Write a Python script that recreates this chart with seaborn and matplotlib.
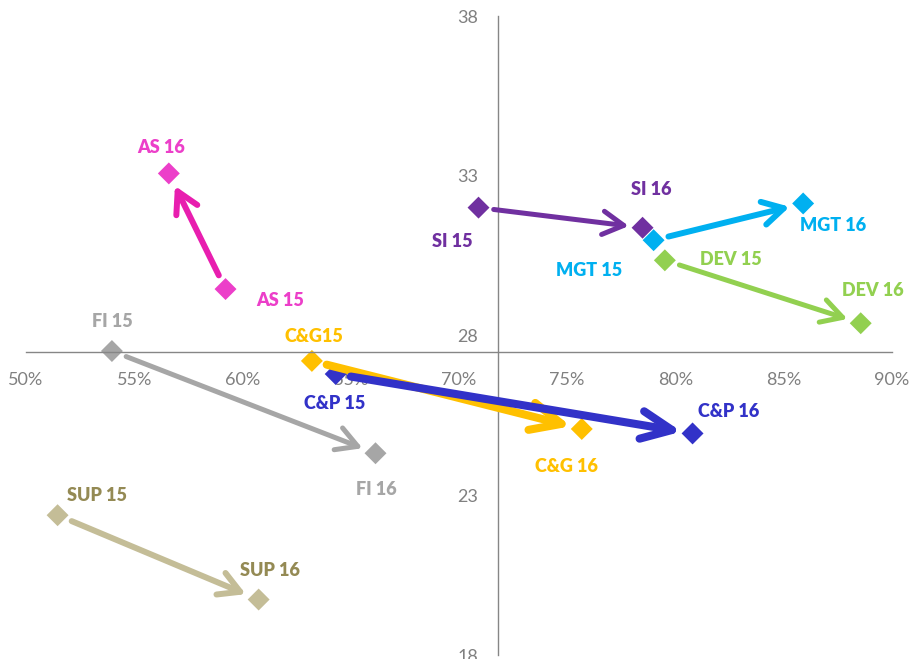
import numpy as np
import pandas as pd
import matplotlib
matplotlib.use('Agg')
import matplotlib.pyplot as plt
import seaborn as sns

# ------------------------------------------------------------------
# data: position of each team in 2015 and 2016 (x in %, y score)
# ------------------------------------------------------------------
teams = ['AS', 'SI', 'MGT', 'DEV', 'FI', 'C&G', 'C&P', 'SUP']
x15 = [59.22, 70.91, 79.00, 79.52, 53.97, 63.21, 64.31, 51.46]
y15 = [29.46, 32.01, 30.99, 30.36, 27.52, 27.21, 26.80, 22.38]
x16 = [56.60, 78.49, 85.91, 88.57, 66.15, 75.68, 80.80, 60.75]
y16 = [33.08, 31.38, 32.14, 28.39, 24.32, 25.08, 24.94, 19.74]
labels15 = ['AS 15', 'SI 15', 'MGT 15', 'DEV 15', 'FI 15', 'C&G15', 'C&P 15', 'SUP 15']
labels16 = ['AS 16', 'SI 16', 'MGT 16', 'DEV 16', 'FI 16', 'C&G 16', 'C&P 16', 'SUP 16']
xticks = [50, 55, 60, 65, 70, 75, 80, 85, 90]
xticklabels = ['50%', '55%', '60%', '65%', '70%', '75%', '80%', '85%', '90%']
yticks = [18, 23, 28, 33, 38]

# styles
marker_col = {'AS': '#EC3FC9', 'SI': '#7030A0', 'MGT': '#00B0F0', 'DEV': '#92D050',
              'FI': '#A6A6A6', 'C&G': '#FFC000', 'C&P': '#3232C8', 'SUP': '#C4BD97'}
arrow_col = dict(marker_col, AS='#E81EAF')
text_col = dict(marker_col, SUP='#948A54')
arrow_lw = {'AS': 4.3, 'SI': 3.6, 'MGT': 4.3, 'DEV': 3.6, 'FI': 3.6,
            'C&G': 5.8, 'C&P': 5.8, 'SUP': 4.3}
# label offsets in pixels (dx, dy, ha)
off15 = {'AS': (31, -11, 'left'), 'SI': (-6, -34, 'right'), 'MGT': (-31, -30, 'right'),
         'DEV': (35, 1, 'left'), 'FI': (0, 30, 'center'), 'C&G': (2, 24, 'center'),
         'C&P': (-1, -29, 'center'), 'SUP': (39, 20, 'center')}
off16 = {'AS': (-8, 26, 'center'), 'SI': (9, 38, 'center'), 'MGT': (30, -22, 'center'),
         'DEV': (12, 33, 'center'), 'FI': (1, -36, 'center'), 'C&G': (-15, -38, 'center'),
         'C&P': (36, 22, 'center'), 'SUP': (11, 29, 'center')}

df = pd.DataFrame({
    'team': teams * 2,
    'x': x15 + x16,
    'y': y15 + y16,
})

sns.set_style('white')
plt.rcParams['font.family'] = ['Lato', 'DejaVu Sans']

fig = plt.figure(figsize=(9.12, 6.59), dpi=100)
ax = fig.add_axes([0.0285, 0.0059, 0.9492, 0.9694])

sns.scatterplot(data=df, x='x', y='y', hue='team', palette=marker_col, marker='D',
                s=125, linewidth=0, legend=False, ax=ax, zorder=2)

# arrows 2015 -> 2016 (C&P drawn last so it sits on top)
for t in ['AS', 'SI', 'MGT', 'DEV', 'FI', 'SUP', 'C&G', 'C&P']:
    i = teams.index(t)
    thick = arrow_lw[t] > 5
    hl, hw = (22, 10) if thick else (15, 8.4)
    ax.annotate('', xy=(x16[i], y16[i]), xytext=(x15[i], y15[i]),
                arrowprops=dict(arrowstyle=f'->,head_length={hl},head_width={hw}',
                                mutation_scale=1, color=arrow_col[t], lw=arrow_lw[t],
                                shrinkA=11, shrinkB=8 if thick else 10,
                                capstyle='round', joinstyle='round'),
                zorder=3)

# point labels
for i, t in enumerate(teams):
    for xs, ys, labs, offs in [(x15, y15, labels15, off15), (x16, y16, labels16, off16)]:
        dx, dy, ha = offs[t]
        ax.annotate(labs[i], xy=(xs[i], ys[i]), xytext=(dx, dy), textcoords='offset pixels',
                    ha=ha, va='center', fontsize=13, fontweight='heavy', color=text_col[t],
                    zorder=4)

# axes crossing in the middle of the plot
ax.set_xlim(50, 90)
ax.set_ylim(18, 38)
ax.spines['left'].set_position(('data', 71.8))
ax.spines['bottom'].set_position(('data', 27.5))
for s in ['top', 'right']:
    ax.spines[s].set_visible(False)
for s in ['left', 'bottom']:
    ax.spines[s].set_color('#868686')
    ax.spines[s].set_linewidth(1.0)

ax.set_xticks(xticks)
ax.set_xticklabels(xticklabels)
ax.set_yticks(yticks)
ax.tick_params(axis='both', direction='out', length=4, width=1.0, color='#868686',
               labelcolor='#808080', labelsize=13)
ax.tick_params(axis='x', pad=11)
ax.tick_params(axis='y', pad=10)
ax.set_xlabel('')
ax.set_ylabel('')
ax.patch.set_alpha(0)

fig.savefig('out.png', dpi=100)
